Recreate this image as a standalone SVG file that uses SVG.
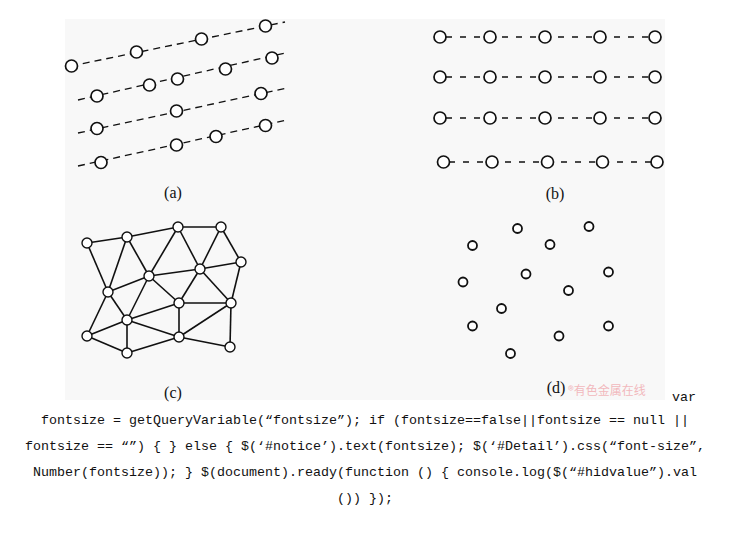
<svg xmlns="http://www.w3.org/2000/svg" width="730" height="548" viewBox="0 0 730 548">
<style>
.bg{fill:#f8f8f8}
.dash{stroke:#111;stroke-width:1.3;stroke-dasharray:7 5;fill:none}
.dashb{stroke:#111;stroke-width:1.3;stroke-dasharray:6 8;fill:none}
.edge{stroke:#111;stroke-width:1.6;fill:none}
.na{fill:#fff;stroke:#111;stroke-width:1.7}
.nc{fill:#fff;stroke:#111;stroke-width:1.4}
.nd{fill:#fff;stroke:#111;stroke-width:1.8}
.lbl{font-family:"Liberation Serif",serif;font-size:16px;fill:#111;text-anchor:middle}
.code{font-family:"Liberation Mono",monospace;font-size:13.3px;fill:#111}
.wm{font-family:"Noto Sans CJK SC",sans-serif;font-size:12px;fill:#f2b9bd}
</style>
<rect x="0" y="0" width="730" height="548" fill="#fff"/>
<rect class="bg" x="65" y="19" width="600" height="381"/>

<g id="connectors">
  <!-- panel a dashed lines -->
  <line class="dash" x1="71" y1="66" x2="285" y2="22"/>
  <line class="dash" x1="78" y1="100" x2="285" y2="53"/>
  <line class="dash" x1="78" y1="133" x2="287" y2="88"/>
  <line class="dash" x1="78" y1="166" x2="287" y2="120"/>
  <!-- panel b dashed lines -->
  <line class="dashb" x1="446" y1="37" x2="655" y2="37"/>
  <line class="dashb" x1="446" y1="77" x2="655" y2="77"/>
  <line class="dashb" x1="446" y1="118" x2="655" y2="118"/>
  <line class="dashb" x1="449" y1="162" x2="657" y2="162"/>
  <!-- panel c mesh -->
  <g class="edge">
    <line x1="87" y1="243" x2="127" y2="237"/>
    <line x1="127" y1="237" x2="178" y2="227"/>
    <line x1="178" y1="227" x2="221" y2="227"/>
    <line x1="221" y1="227" x2="241" y2="262"/>
    <line x1="87" y1="243" x2="108" y2="292"/>
    <line x1="127" y1="237" x2="108" y2="292"/>
    <line x1="127" y1="237" x2="149" y2="276"/>
    <line x1="178" y1="227" x2="149" y2="276"/>
    <line x1="178" y1="227" x2="200" y2="269"/>
    <line x1="221" y1="227" x2="200" y2="269"/>
    <line x1="241" y1="262" x2="200" y2="269"/>
    <line x1="241" y1="262" x2="231" y2="303"/>
    <line x1="200" y1="269" x2="149" y2="276"/>
    <line x1="200" y1="269" x2="179" y2="303"/>
    <line x1="200" y1="269" x2="231" y2="303"/>
    <line x1="149" y1="276" x2="108" y2="292"/>
    <line x1="149" y1="276" x2="179" y2="303"/>
    <line x1="149" y1="276" x2="127" y2="320"/>
    <line x1="108" y1="292" x2="127" y2="320"/>
    <line x1="108" y1="292" x2="87" y2="336"/>
    <line x1="179" y1="303" x2="231" y2="303"/>
    <line x1="179" y1="303" x2="127" y2="320"/>
    <line x1="179" y1="303" x2="179" y2="337"/>
    <line x1="231" y1="303" x2="230" y2="347"/>
    <line x1="231" y1="303" x2="179" y2="337"/>
    <line x1="127" y1="320" x2="87" y2="336"/>
    <line x1="127" y1="320" x2="179" y2="337"/>
    <line x1="127" y1="320" x2="127" y2="353"/>
    <line x1="87" y1="336" x2="127" y2="353"/>
    <line x1="179" y1="337" x2="127" y2="353"/>
    <line x1="179" y1="337" x2="230" y2="347"/>
  </g>
</g>

<g id="panel-a">
  <circle class="na" cx="71.5" cy="66" r="6"/>
  <circle class="na" cx="136.5" cy="52" r="6"/>
  <circle class="na" cx="201.5" cy="39" r="6"/>
  <circle class="na" cx="265.5" cy="26" r="6"/>
  <circle class="na" cx="97" cy="96" r="6"/>
  <circle class="na" cx="149.5" cy="85" r="6"/>
  <circle class="na" cx="177.5" cy="79" r="6"/>
  <circle class="na" cx="225.5" cy="69" r="6"/>
  <circle class="na" cx="272" cy="58" r="6"/>
  <circle class="na" cx="97" cy="128.5" r="6"/>
  <circle class="na" cx="176.5" cy="111" r="6"/>
  <circle class="na" cx="261" cy="93.5" r="6"/>
  <circle class="na" cx="101" cy="162.5" r="6"/>
  <circle class="na" cx="176.5" cy="145" r="6"/>
  <circle class="na" cx="216" cy="136.5" r="6"/>
  <circle class="na" cx="265.5" cy="125.5" r="6"/>
  <text class="lbl" x="173" y="198">(a)</text>
</g>

<g id="panel-b">
  <circle class="na" cx="440" cy="37" r="6"/>
  <circle class="na" cx="490" cy="37" r="6"/>
  <circle class="na" cx="545" cy="37" r="6"/>
  <circle class="na" cx="600" cy="37" r="6"/>
  <circle class="na" cx="655" cy="37" r="6"/>
  <circle class="na" cx="440" cy="77" r="6"/>
  <circle class="na" cx="490" cy="77" r="6"/>
  <circle class="na" cx="545" cy="77" r="6"/>
  <circle class="na" cx="600" cy="77" r="6"/>
  <circle class="na" cx="655" cy="77" r="6"/>
  <circle class="na" cx="440" cy="118" r="6"/>
  <circle class="na" cx="490" cy="118" r="6"/>
  <circle class="na" cx="545" cy="118" r="6"/>
  <circle class="na" cx="600" cy="118" r="6"/>
  <circle class="na" cx="655" cy="118" r="6"/>
  <circle class="na" cx="443.5" cy="162" r="6"/>
  <circle class="na" cx="492" cy="162" r="6"/>
  <circle class="na" cx="547.5" cy="162" r="6"/>
  <circle class="na" cx="602.5" cy="162" r="6"/>
  <circle class="na" cx="657" cy="162" r="6"/>
  <text class="lbl" x="555" y="199">(b)</text>
</g>

<g id="panel-c">
  <circle class="nc" cx="87" cy="243" r="5"/>
  <circle class="nc" cx="127" cy="237" r="5"/>
  <circle class="nc" cx="178" cy="227" r="5"/>
  <circle class="nc" cx="221" cy="227" r="5"/>
  <circle class="nc" cx="241" cy="262" r="5"/>
  <circle class="nc" cx="200" cy="269" r="5"/>
  <circle class="nc" cx="149" cy="276" r="5"/>
  <circle class="nc" cx="108" cy="292" r="5"/>
  <circle class="nc" cx="179" cy="303" r="5"/>
  <circle class="nc" cx="231" cy="303" r="5"/>
  <circle class="nc" cx="127" cy="320" r="5"/>
  <circle class="nc" cx="87" cy="336" r="5"/>
  <circle class="nc" cx="179" cy="337" r="5"/>
  <circle class="nc" cx="230" cy="347" r="5"/>
  <circle class="nc" cx="127" cy="353" r="5"/>
  <text class="lbl" x="173" y="398">(c)</text>
</g>

<g id="panel-d">
  <circle class="nd" cx="517.5" cy="228.5" r="4.5"/>
  <circle class="nd" cx="589" cy="226.5" r="4.5"/>
  <circle class="nd" cx="472.5" cy="245.5" r="4.5"/>
  <circle class="nd" cx="550" cy="244.5" r="4.5"/>
  <circle class="nd" cx="526" cy="274" r="4.5"/>
  <circle class="nd" cx="608.5" cy="272" r="4.5"/>
  <circle class="nd" cx="463" cy="282" r="4.5"/>
  <circle class="nd" cx="568.5" cy="290.5" r="4.5"/>
  <circle class="nd" cx="501.5" cy="308.5" r="4.5"/>
  <circle class="nd" cx="472.5" cy="326" r="4.5"/>
  <circle class="nd" cx="608.5" cy="326" r="4.5"/>
  <circle class="nd" cx="559" cy="336" r="4.5"/>
  <circle class="nd" cx="510.5" cy="353.5" r="4.5"/>
  <text class="lbl" x="556" y="393">(d)</text>
  <text class="wm" x="568" y="395">®有色金属在线</text>
</g>

<g id="code-text">
  <text class="code" x="672" y="401" textLength="24" lengthAdjust="spacingAndGlyphs">var</text>
  <text class="code" x="41" y="424" textLength="648" lengthAdjust="spacingAndGlyphs">fontsize = getQueryVariable(“fontsize”); if (fontsize==false||fontsize == null ||</text>
  <text class="code" x="25" y="450" textLength="680" lengthAdjust="spacingAndGlyphs">fontsize == “”) { } else { $(‘#notice’).text(fontsize); $(‘#Detail’).css(“font-size”,</text>
  <text class="code" x="33" y="476" textLength="664" lengthAdjust="spacingAndGlyphs">Number(fontsize)); } $(document).ready(function () { console.log($(“#hidvalue”).val</text>
  <text class="code" x="337" y="502" textLength="56" lengthAdjust="spacingAndGlyphs">()) });</text>
</g>
</svg>
